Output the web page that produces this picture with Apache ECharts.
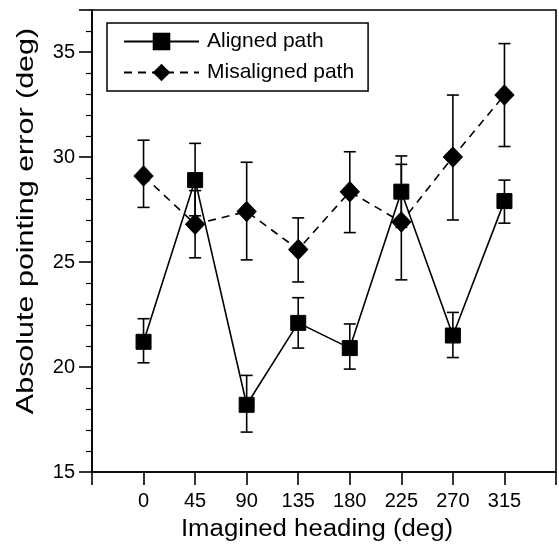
<!DOCTYPE html>
<html>
<head>
<meta charset="utf-8">
<script src="https://cdn.jsdelivr.net/npm/echarts@6/dist/echarts.min.js"></script>
<style>html,body{margin:0;padding:0;background:#fff}#c{width:559px;height:545px}</style>
</head>
<body>
<div id="c"></div>
<script>
const headings = [0, 45, 90, 135, 180, 225, 270, 315];
const alignedMean = [21.2, 28.9, 18.2, 22.1, 20.9, 28.35, 21.5, 27.9];
const alignedHigh = [22.3, 30.65, 19.6, 23.3, 22.05, 30.05, 22.6, 28.9];
const alignedLow  = [20.2, 27.2, 16.9, 20.9, 19.9, 26.65, 20.45, 26.85];
const misMean = [29.1, 26.8, 27.4, 25.6, 28.35, 26.9, 30.0, 32.95];
const misHigh = [30.8, 28.4, 29.75, 27.1, 30.25, 29.65, 32.95, 35.4];
const misLow  = [27.6, 25.2, 25.1, 24.05, 26.4, 24.15, 27.0, 30.5];
const seriesNames = ['Aligned path', 'Misaligned path'];
const xTitle = 'Imagined heading (deg)';
const yTitle = 'Absolute pointing error (deg)';

const FONTNAME = '"Liberation Sans", Arial, sans-serif';
const chart = echarts.init(document.getElementById('c'));

function errData(lo, hi) { return headings.map((h, i) => [h, lo[i], hi[i]]); }
function errRender(params, api) {
  const x = api.value(0);
  const p1 = api.coord([x, api.value(1)]);
  const p2 = api.coord([x, api.value(2)]);
  const w = 6;
  const st = { stroke: '#000', lineWidth: 1.6 };
  return { type: 'group', children: [
    { type: 'line', shape: { x1: p1[0], y1: p1[1], x2: p2[0], y2: p2[1] }, style: st },
    { type: 'line', shape: { x1: p1[0] - w, y1: p1[1], x2: p1[0] + w, y2: p1[1] }, style: st },
    { type: 'line', shape: { x1: p2[0] - w, y1: p2[1], x2: p2[0] + w, y2: p2[1] }, style: st }
  ]};
}

chart.setOption({
  animation: false,
  backgroundColor: '#fff',
  grid: { left: 92, right: 3, top: 10, bottom: 73, containLabel: false, outerBoundsMode: 'none',
    show: true, borderColor: '#000', borderWidth: 1.6, backgroundColor: 'transparent' },
  legend: {
    data: seriesNames.map(n => ({ name: n })),
    orient: 'vertical', left: 107, top: 23,
    itemWidth: 75, itemHeight: 22, itemGap: 10,
    borderColor: '#000', borderWidth: 1.5, padding: [8, 14, 8, 16],
    textStyle: { fontFamily: FONTNAME, fontSize: 21, color: '#000', padding: [0, 0, 0, 3] },
    selectedMode: false
  },
  graphic: [
    { type: 'text', x: 26, y: 221, rotation: Math.PI / 2, scaleX: 1.27, silent: true,
      style: { text: yTitle, font: '24px ' + FONTNAME, fill: '#000', align: 'center', verticalAlign: 'middle' } },
    { type: 'text', x: 317, y: 530, scaleX: 1.12, silent: true,
      style: { text: xTitle, font: '23px ' + FONTNAME, fill: '#000', align: 'center', verticalAlign: 'middle' } }
  ],
  xAxis: {
    type: 'value', min: -45, max: 360, interval: 45,
    axisLine: { onZero: false, lineStyle: { color: '#000', width: 1.6 } },
    axisTick: { show: true, length: 13, lineStyle: { color: '#000', width: 1.6 } },
    axisLabel: { fontFamily: FONTNAME, fontSize: 20, color: '#000', margin: 19,
      formatter: v => (v < 0 || v > 315) ? '' : String(v) },
    splitLine: { show: false }
  },
  yAxis: {
    type: 'value', min: 15, max: 37, interval: 5,
    axisLine: { show: true, onZero: false, lineStyle: { color: '#000', width: 1.6 } },
    axisTick: { show: true, length: 13, lineStyle: { color: '#000', width: 1.6 } },
    minorTick: { show: true, splitNumber: 5, length: 6, lineStyle: { color: '#000', width: 1.2 } },
    axisLabel: { fontFamily: FONTNAME, fontSize: 20, color: '#000', margin: 17,
      formatter: v => (v > 35) ? '' : String(v) },
    splitLine: { show: false }
  },
  series: [
    { type: 'custom', name: 'errA', renderItem: errRender, data: errData(alignedLow, alignedHigh), z: 1, silent: true },
    { type: 'custom', name: 'errM', renderItem: errRender, data: errData(misLow, misHigh), z: 1, silent: true },
    {
      type: 'line', name: seriesNames[0], data: headings.map((h, i) => [h, alignedMean[i]]),
      symbol: 'rect', symbolSize: 15, z: 3,
      lineStyle: { color: '#000', width: 1.6, type: 'solid' },
      itemStyle: { color: '#000', borderColor: '#000' }
    },
    {
      type: 'line', name: seriesNames[1], data: headings.map((h, i) => [h, misMean[i]]),
      symbol: 'diamond', symbolSize: [19, 20], z: 4,
      lineStyle: { color: '#000', width: 1.6, type: [8, 6] },
      itemStyle: { color: '#000', borderColor: '#000' }
    }
  ]
});
</script>
</body>
</html>
